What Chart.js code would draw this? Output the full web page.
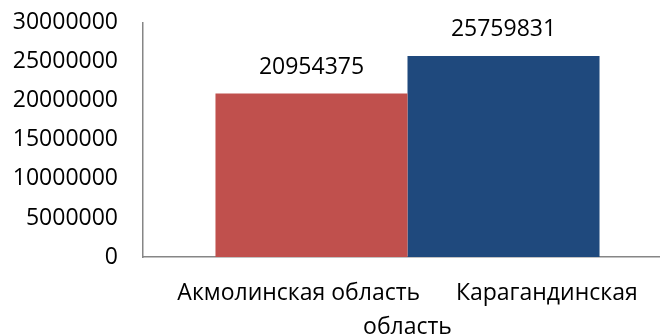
<!DOCTYPE html>
<html>
<head>
  <meta charset="utf-8">
  <title>Chart</title>
  <script src="https://cdn.jsdelivr.net/npm/chart.js"></script>
  <style>
    html, body { margin: 0; padding: 0; background: #fff; overflow: hidden; }
    .wrap { width: 672px; height: 343px; margin-top: -8px; }
  </style>
</head>
<body>
  <div class="wrap"><canvas id="barChart"></canvas></div>
  <script>
    // регионы и значения
    const regions = ['Акмолинская область', 'Карагандинская область'];
    const values = [20954375, 25759831];
    const barColors = ['#C0504D', '#1F497D'];
    // подпись категории (в оригинале одна общая, переносится)
    const categoryLabel = ['Акмолинская область      Карагандинская', 'область'];
    const yTicks = [0, 5000000, 10000000, 15000000, 20000000, 25000000, 30000000];

    const FONT = '"Open Sans", sans-serif';

    // подписи значений над столбцами
    const valueLabels = {
      id: 'valueLabels',
      afterDatasetsDraw(chart) {
        const ctx = chart.ctx;
        ctx.save();
        ctx.font = '23px ' + FONT;
        ctx.fillStyle = '#000';
        ctx.textAlign = 'center';
        ctx.textBaseline = 'middle';
        chart.data.datasets.forEach((ds, i) => {
          const bar = chart.getDatasetMeta(i).data[0];
          ctx.fillText(String(ds.data[0]), bar.x, bar.y - 26);
        });
        ctx.restore();
      }
    };

    const ctx = document.getElementById('barChart').getContext('2d');
    new Chart(ctx, {
      type: 'bar',
      data: {
        labels: [categoryLabel],
        datasets: regions.map((r, i) => ({
          label: r,
          data: [values[i]],
          backgroundColor: barColors[i],
          barPercentage: 1,
          categoryPercentage: 0.726
        }))
      },
      options: {
        responsive: true,
        maintainAspectRatio: false,
        animation: false,
        layout: { padding: { top: 9, right: 0, left: 0, bottom: 0 } },
        plugins: {
          legend: { display: false },
          tooltip: { enabled: false }
        },
        scales: {
          x: {
            grid: { display: false },
            border: { display: true, color: '#868686', width: 1.5 },
            ticks: {
              color: '#000',
              font: { family: FONT, size: 23, lineHeight: 1.45 },
              maxRotation: 0,
              padding: 12
            },
            afterFit(axis) { axis.height = 78; }
          },
          y: {
            min: 0,
            max: 30000000,
            grid: { display: false },
            border: { display: true, color: '#868686', width: 1.5 },
            afterBuildTicks(axis) { axis.ticks = yTicks.map(v => ({ value: v })); },
            ticks: {
              color: '#000',
              font: { family: FONT, size: 23 },
              padding: 17,
              callback: v => String(v)
            },
            afterFit(axis) { axis.width = 143; }
          }
        }
      },
      plugins: [valueLabels]
    });
  </script>
</body>
</html>
